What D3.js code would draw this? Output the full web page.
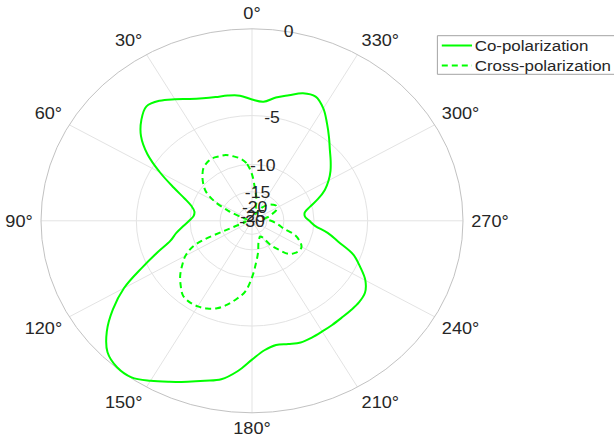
<!DOCTYPE html>
<html>
<head>
<meta charset="utf-8">
<script src="https://cdn.jsdelivr.net/npm/d3@7"></script>
<style>
  html, body { margin: 0; padding: 0; background: #ffffff; }
  svg { display: block; font-family: "Liberation Sans", Arial, Helvetica, sans-serif; }
</style>
</head>
<body>
<svg id="chart" width="614" height="439"></svg>
<script>
// Azimuth of each sample, degrees, counter-clockwise from the top
const angles = [
    0,   5,  10,  15,  20,  25,  30,  35,  40,  45,
   50,  55,  60,  65,  70,  75,  80,  85,  90,  95,
  100, 105, 110, 115, 120, 125, 130, 135, 140, 145,
  150, 155, 160, 165, 170, 175, 180, 185, 190, 195,
  200, 205, 210, 215, 220, 225, 230, 235, 240, 245,
  250, 255, 260, 265, 270, 275, 280, 285, 290, 295,
  300, 305, 310, 315, 320, 325, 330, 335, 340, 345,
  350, 355
];

// Normalised co-polarised gain, dB
const coPol = [
  -3.83, -3.54, -3.44, -3.38, -3.23, -2.98, -2.62, -2.26, -2.10, -2.50,
  -3.14, -4.19, -5.70, -7.36, -8.85, -9.92, -10.46, -10.43, -9.89, -9.14,
  -8.31, -7.56, -6.17, -4.63, -2.98, -1.82, -0.90, -0.27, -0.04, -0.04,
  -0.32, -0.65, -0.96, -1.24, -1.48, -2.01, -2.71, -3.26, -3.51, -3.42,
  -3.29, -3.33, -3.40, -3.44, -3.47, -3.46, -3.45, -3.55, -3.98, -4.75,
  -5.59, -7.07, -8.31, -9.84, -10.60, -11.19, -11.13, -10.24, -9.02, -7.95,
  -7.18, -6.53, -5.97, -5.40, -4.71, -3.99, -3.27, -2.82, -2.90, -3.26,
  -3.57, -3.95
];

// Normalised cross-polarised gain, dB
const crossPol = [
  -11.50, -9.81, -9.09, -8.67, -8.31, -8.18, -8.05, -8.16, -8.44, -9.04,
  -9.79, -10.75, -12.62, -16.27, -21.94, -25.85, -24.34, -23.67, -23.05, -23.67,
  -24.34, -23.05, -18.50, -9.84, -8.31, -7.48, -6.71, -6.12, -5.61, -5.48,
  -5.52, -5.68, -6.00, -6.57, -7.32, -8.18, -9.97, -12.23, -14.32, -16.72,
  -17.82, -18.50, -17.82, -14.81, -13.10, -11.44, -10.89, -10.60, -10.63, -11.29,
  -12.33, -14.81, -16.05, -17.20, -18.50, -20.05, -20.94, -19.24, -17.82, -16.32,
  -15.79, -15.64, -16.05, -16.61, -17.50, -18.87, -20.94, -23.05, -23.05, -20.05,
  -16.61, -14.36
];

const thetaTicks  = [0, 30, 60, 90, 120, 150, 180, 210, 240, 270, 300, 330];
const thetaLabels = ["0°", "30°", "60°", "90°", "120°", "150°", "180°", "210°", "240°", "270°", "300°", "330°"];
const rTicks  = [0, -5, -10, -15, -20, -25, -30];
const rLabels = ["0", "-5", "-10", "-15", "-20", "-25", "-30"];
const seriesNames = ["Co-polarization", "Cross-polarization"];

// ---- layout ----
const cx = 252, cy = 220.8;      // pole
const R = 192;                    // outer radius (vertical)
const sx = 211 / 192;             // horizontal stretch of the whole figure
const textColor = "#262626";
const gridColor = "#e3e3e3";
const edgeColor = "#c2c2c2";
const lineColor = "#00ff00";

// Linear amplitude radius, labelled in dB
const ampMin = Math.pow(10, d3.min(rTicks) / 20);
const rScale = d3.scaleLinear().domain([ampMin, 1]).range([0, R]).clamp(true);
const rOfDb = db => rScale(Math.pow(10, db / 20));
// counter-clockwise angle, zero at the top
const aScale = d3.scaleLinear().domain([0, 360]).range([0, -2 * Math.PI]);

const svg = d3.select("#chart");
const g = svg.append("g")
  .attr("transform", `translate(${cx},${cy}) scale(${sx},1)`);

// grid rings
g.append("g").selectAll("circle")
  .data(rTicks.filter(d => d > d3.min(rTicks) && d < d3.max(rTicks)))
  .join("circle")
  .attr("r", d => rOfDb(d))
  .attr("fill", "none")
  .attr("stroke", gridColor)
  .attr("stroke-width", 1)
  .attr("vector-effect", "non-scaling-stroke");

// spokes
g.append("g").selectAll("line")
  .data(thetaTicks)
  .join("line")
  .attr("x1", 0).attr("y1", 0)
  .attr("x2", d => R * Math.sin(aScale(d)))
  .attr("y2", d => -R * Math.cos(aScale(d)))
  .attr("stroke", gridColor)
  .attr("stroke-width", 1)
  .attr("vector-effect", "non-scaling-stroke");

// outer edge
g.append("circle")
  .attr("r", rOfDb(d3.max(rTicks)))
  .attr("fill", "none")
  .attr("stroke", edgeColor)
  .attr("stroke-width", 1)
  .attr("vector-effect", "non-scaling-stroke");

// pattern traces
const radial = d3.lineRadial()
  .angle(d => aScale(d[0]))
  .radius(d => rOfDb(d[1]))
  .curve(d3.curveCatmullRomClosed.alpha(0.5));

const series = [
  { name: seriesNames[0], values: coPol, dash: null },
  { name: seriesNames[1], values: crossPol, dash: "6,4" }
];

g.append("g").selectAll("path")
  .data(series)
  .join("path")
  .attr("d", s => radial(angles.map((a, i) => [a, s.values[i]])))
  .attr("fill", "none")
  .attr("stroke", lineColor)
  .attr("stroke-width", 2)
  .attr("stroke-dasharray", s => s.dash)
  .attr("stroke-linejoin", "round")
  .attr("vector-effect", "non-scaling-stroke");

// angle labels
const fsTheta = 16.5, gap = 7.5, halfH = 8;
g.append("g").selectAll("text")
  .data(thetaTicks)
  .join("text")
  .each(function (d, i) {
    const a = aScale(d);
    const ux = Math.sin(a), uy = -Math.cos(a);
    const ax = (R + gap) * ux, ay = (R + gap) * uy;
    const anchor = ux < -0.01 ? "end" : (ux > 0.01 ? "start" : "middle");
    const midY = uy < -0.01 ? ay - halfH : (uy > 0.01 ? ay + halfH : ay);
    d3.select(this)
      .attr("x", ax)
      .attr("y", midY + 0.36 * fsTheta)
      .attr("text-anchor", anchor)
      .attr("font-size", fsTheta)
      .attr("fill", textColor)
      .text(thetaLabels[i]);
  });

// radius labels, along a line 10° right of the top
const fsR = 16;
const rLabelAngle = aScale(-10);
g.append("g").selectAll("text")
  .data(rTicks)
  .join("text")
  .attr("x", d => rOfDb(d) * Math.sin(rLabelAngle))
  .attr("y", d => -rOfDb(d) * Math.cos(rLabelAngle) + 0.36 * fsR)
  .attr("text-anchor", "middle")
  .attr("font-size", fsR)
  .attr("fill", textColor)
  .text((d, i) => rLabels[i]);

// legend
const fsLeg = 15.4;
const leg = svg.append("g").attr("transform", `scale(${sx},1)`);
leg.append("rect")
  .attr("x", 398).attr("y", 35.7)
  .attr("width", 220).attr("height", 38.6)
  .attr("fill", "#ffffff")
  .attr("stroke", "#a3a3a3")
  .attr("stroke-width", 1)
  .attr("vector-effect", "non-scaling-stroke");

const rows = leg.selectAll("g.row")
  .data(series)
  .join("g")
  .attr("class", "row")
  .attr("transform", (d, i) => `translate(0,${45.5 + i * 20})`);

rows.append("line")
  .attr("x1", 402).attr("x2", 429.5)
  .attr("y1", 0).attr("y2", 0)
  .attr("stroke", lineColor)
  .attr("stroke-width", 2)
  .attr("stroke-dasharray", d => d.dash)
  .attr("vector-effect", "non-scaling-stroke");

rows.append("text")
  .attr("x", 432)
  .attr("y", 0.36 * fsLeg)
  .attr("font-size", fsLeg)
  .attr("fill", textColor)
  .text(d => d.name);
</script>
</body>
</html>
